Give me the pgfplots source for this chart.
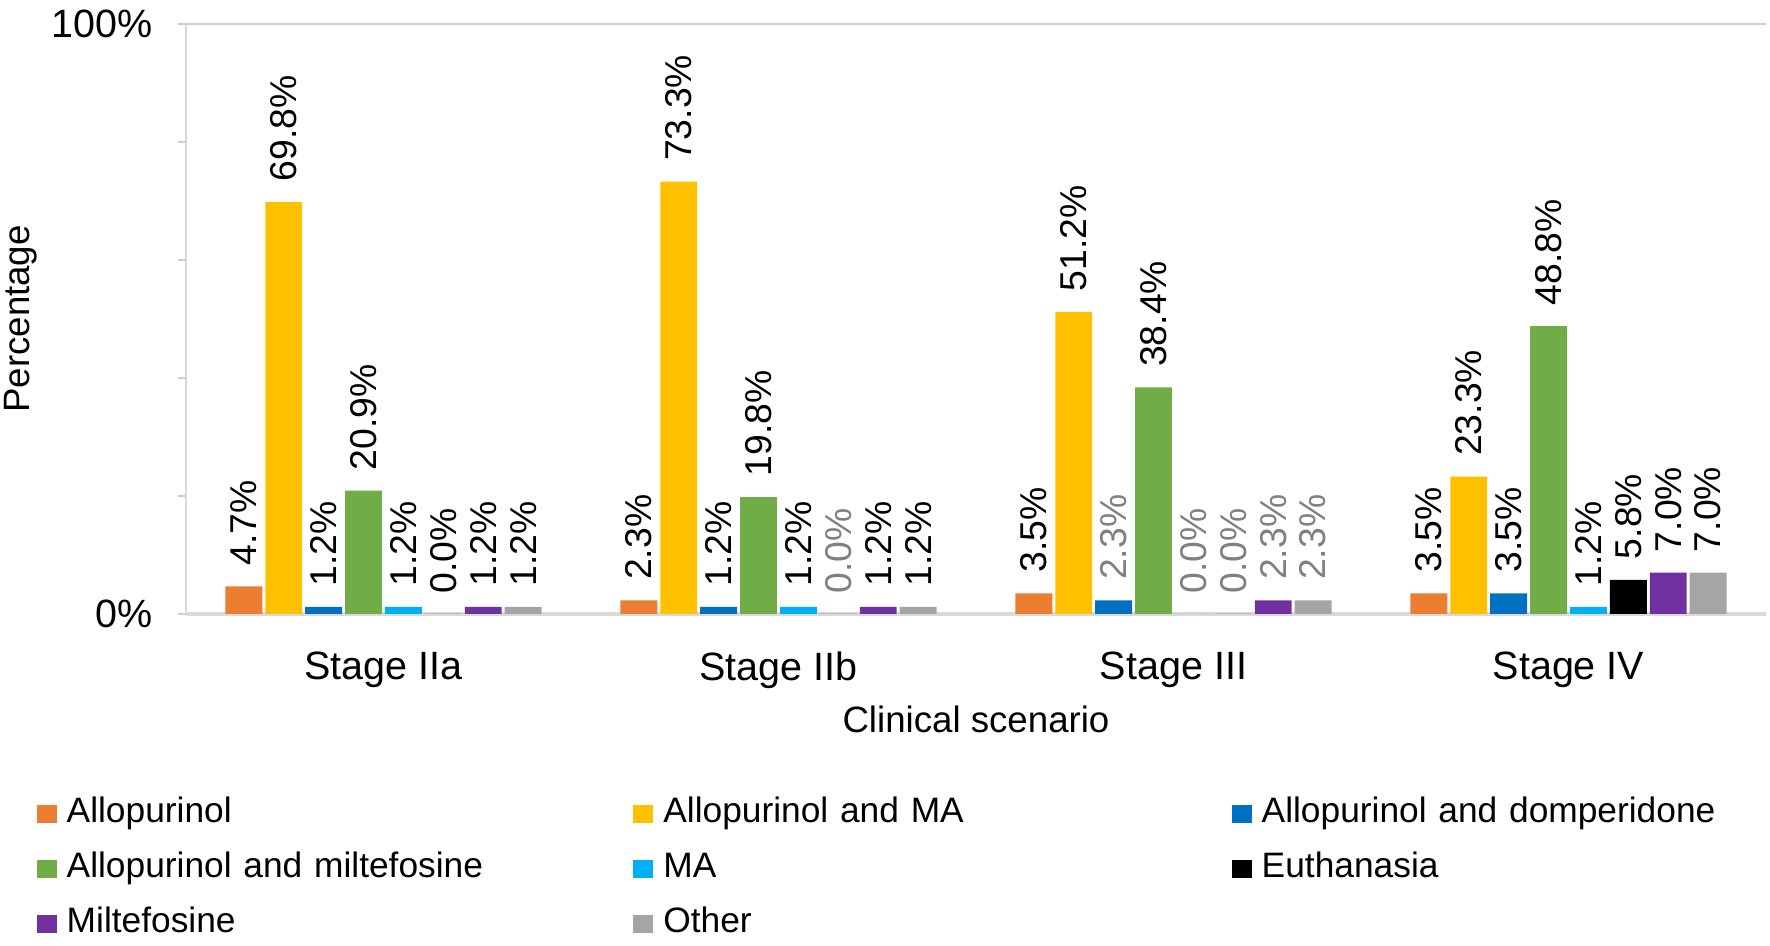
\documentclass[border=0pt]{standalone}
\usepackage{pgfplots}
\pgfplotsset{compat=1.18}
\usepackage{pgfplotstable}
\usepackage{fontspec}
\setmainfont{Liberation Sans}
\definecolor{cA}{HTML}{ED7D31}
\definecolor{cB}{HTML}{FFC000}
\definecolor{cC}{HTML}{0070C0}
\definecolor{cD}{HTML}{70AD47}
\definecolor{cE}{HTML}{00B0F0}
\definecolor{cF}{HTML}{000000}
\definecolor{cG}{HTML}{7030A0}
\definecolor{cH}{HTML}{A5A5A5}
\definecolor{lblgray}{HTML}{808080}
\pgfplotstableread{
x y g
0 4.7 0
1 2.3 0
2 3.5 0
3 3.5 0
}\tA
\pgfplotstableread{
x y g
0 69.8 0
1 73.3 0
2 51.2 0
3 23.3 0
}\tB
\pgfplotstableread{
x y g
0 1.2 0
1 1.2 0
2 2.3 1
3 3.5 0
}\tC
\pgfplotstableread{
x y g
0 20.9 0
1 19.8 0
2 38.4 0
3 48.8 0
}\tD
\pgfplotstableread{
x y g
0 1.2 0
1 1.2 0
2 0.0 1
3 1.2 0
}\tE
\pgfplotstableread{
x y g
0 0.0 0
1 0.0 1
2 0.0 1
3 5.8 0
}\tF
\pgfplotstableread{
x y g
0 1.2 0
1 1.2 0
2 2.3 1
3 7.0 0
}\tG
\pgfplotstableread{
x y g
0 1.2 0
1 1.2 0
2 2.3 1
3 7.0 0
}\tH
\pgfplotsset{sqlegend/.style={legend image code/.code={\path[##1,draw=none] (0pt,-2.7pt) rectangle (6pt,2.7pt);}}}
\begin{document}
\begin{tikzpicture}
\begin{axis}[
  at={(55.8pt,99.6pt)}, anchor=south west,
  scale only axis, width=474pt, height=177pt,
  xmin=-0.5, xmax=3.5, ymin=0, ymax=100,
  ybar, bar width=0.0934,
  clip=false,
  axis x line*=bottom, axis y line*=left,
  x axis line style={draw=black!15, line width=1pt, -},
  y axis line style={draw=black!15, line width=0.4pt, -},
  xtick={0,1,2,3}, xticklabels={Stage IIa, Stage IIb, Stage III, Stage IV},
  x tick style={draw=none},
  ytick={0,20,40,60,80,100}, yticklabels={0\%,,,,,100\%},
  y tick style={draw=black!20, line width=0.4pt},
  tick align=outside, major tick length=2.4pt,
  /pgf/number format/assume math mode=true,
  xticklabel style={font=\fontsize{11.85}{14}\selectfont, yshift=-5.3pt},
  yticklabel style={font=\fontsize{11.85}{14}\selectfont, xshift=-4pt},
  xlabel={Clinical scenario}, ylabel={Percentage},
  xlabel style={at={(axis description cs:0.5,-0.178)}, anchor=center, font=\fontsize{11}{13}\selectfont},
  ylabel style={at={(axis description cs:-0.1044,0.5)}, anchor=center, font=\fontsize{11}{13}\selectfont},
  visualization depends on={\thisrow{g} \as \gflag},
  nodes near coords={\ifdim\gflag pt>0.5pt \color{lblgray}\fi\pgfmathprintnumber[fixed,fixed zerofill,precision=1]{\pgfplotspointmeta}\%},
  every node near coord/.append style={rotate=90, anchor=west, inner xsep=6pt, font=\fontsize{11.2}{13}\selectfont},
  legend columns=3,
  legend cell align=left,
  legend style={at={(axis description cs:-0.0949,-0.302)}, anchor=north west, draw=none, inner sep=0pt,
    font=\fontsize{10.6}{13}\selectfont,
    nodes={text width=165pt, align=left, inner xsep=3pt, inner ysep=1pt, text height=8pt, text depth=2.5pt},
    /tikz/column 1/.style={column sep=0pt},
    /tikz/column 2/.style={column sep=2pt},
    /tikz/column 3/.style={column sep=0pt},
    /tikz/column 4/.style={column sep=2.5pt},
    /tikz/column 5/.style={column sep=0pt},
    row sep=4pt},
]
\addplot[fill=cA, draw=none, bar shift=-0.3535, sqlegend] table[x=x,y=y] {\tA};
\addlegendentry{Allopurinol}
\addplot[fill=cB, draw=none, bar shift=-0.2525, sqlegend] table[x=x,y=y] {\tB};
\addlegendentry{Allopurinol and MA}
\addplot[fill=cC, draw=none, bar shift=-0.1515, sqlegend] table[x=x,y=y] {\tC};
\addlegendentry{Allopurinol and domperidone}
\addplot[fill=cD, draw=none, bar shift=-0.0505, sqlegend] table[x=x,y=y] {\tD};
\addlegendentry{Allopurinol and miltefosine}
\addplot[fill=cE, draw=none, bar shift=0.0505, sqlegend] table[x=x,y=y] {\tE};
\addlegendentry{MA}
\addplot[fill=cF, draw=none, bar shift=0.1515, sqlegend] table[x=x,y=y] {\tF};
\addlegendentry{Euthanasia}
\addplot[fill=cG, draw=none, bar shift=0.2525, sqlegend] table[x=x,y=y] {\tG};
\addlegendentry{Miltefosine}
\addplot[fill=cH, draw=none, bar shift=0.3535, sqlegend] table[x=x,y=y] {\tH};
\addlegendentry{Other}
\draw[draw=black!18, line width=0.6pt] (rel axis cs:0,1) -- (rel axis cs:1,1);
\end{axis}
\pgfresetboundingbox
\path (0pt,0pt) rectangle (531pt,283.8pt);
\end{tikzpicture}
\end{document}
